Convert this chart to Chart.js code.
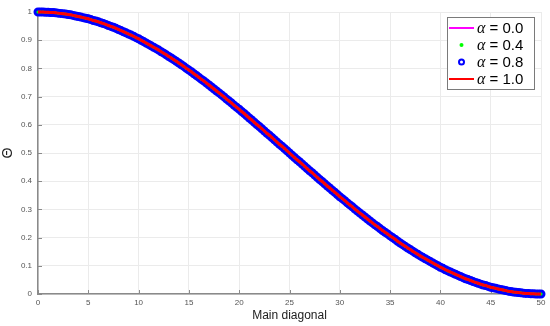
<!DOCTYPE html>
<html>
<head>
<meta charset="utf-8">
<script src="https://cdn.jsdelivr.net/npm/chart.js@4/dist/chart.umd.min.js"></script>
<style>
  html, body { margin: 0; padding: 0; background: #fff; }
  canvas { display: block; }
</style>
</head>
<body>
<canvas id="chart" width="550" height="326"></canvas>
<script>
// posiciones sobre la diagonal principal
const diag = [0, 0.25, 0.5, 0.75, 1, 1.25, 1.5, 1.75, 2, 2.25, 2.5, 2.75, 3, 3.25, 3.5, 3.75, 4, 4.25, 4.5, 4.75,
  5, 5.25, 5.5, 5.75, 6, 6.25, 6.5, 6.75, 7, 7.25, 7.5, 7.75, 8, 8.25, 8.5, 8.75, 9, 9.25, 9.5, 9.75,
  10, 10.25, 10.5, 10.75, 11, 11.25, 11.5, 11.75, 12, 12.25, 12.5, 12.75, 13, 13.25, 13.5, 13.75, 14, 14.25, 14.5, 14.75,
  15, 15.25, 15.5, 15.75, 16, 16.25, 16.5, 16.75, 17, 17.25, 17.5, 17.75, 18, 18.25, 18.5, 18.75, 19, 19.25, 19.5, 19.75,
  20, 20.25, 20.5, 20.75, 21, 21.25, 21.5, 21.75, 22, 22.25, 22.5, 22.75, 23, 23.25, 23.5, 23.75, 24, 24.25, 24.5, 24.75,
  25, 25.25, 25.5, 25.75, 26, 26.25, 26.5, 26.75, 27, 27.25, 27.5, 27.75, 28, 28.25, 28.5, 28.75, 29, 29.25, 29.5, 29.75,
  30, 30.25, 30.5, 30.75, 31, 31.25, 31.5, 31.75, 32, 32.25, 32.5, 32.75, 33, 33.25, 33.5, 33.75, 34, 34.25, 34.5, 34.75,
  35, 35.25, 35.5, 35.75, 36, 36.25, 36.5, 36.75, 37, 37.25, 37.5, 37.75, 38, 38.25, 38.5, 38.75, 39, 39.25, 39.5, 39.75,
  40, 40.25, 40.5, 40.75, 41, 41.25, 41.5, 41.75, 42, 42.25, 42.5, 42.75, 43, 43.25, 43.5, 43.75, 44, 44.25, 44.5, 44.75,
  45, 45.25, 45.5, 45.75, 46, 46.25, 46.5, 46.75, 47, 47.25, 47.5, 47.75, 48, 48.25, 48.5, 48.75, 49, 49.25, 49.5, 49.75, 50];

// valores de Theta (las cuatro curvas se superponen)
const theta = [1.000, 1.000, 1.000, 0.999, 0.999, 0.998, 0.998, 0.997, 0.996, 0.995,
  0.994, 0.993, 0.991, 0.990, 0.988, 0.986, 0.984, 0.982, 0.980, 0.978,
  0.976, 0.973, 0.970, 0.968, 0.965, 0.962, 0.959, 0.956, 0.952, 0.949,
  0.946, 0.942, 0.938, 0.934, 0.930, 0.926, 0.922, 0.918, 0.914, 0.909,
  0.905, 0.900, 0.895, 0.890, 0.885, 0.880, 0.875, 0.870, 0.865, 0.859,
  0.854, 0.848, 0.842, 0.837, 0.831, 0.825, 0.819, 0.813, 0.807, 0.800,
  0.794, 0.788, 0.781, 0.775, 0.768, 0.761, 0.755, 0.748, 0.741, 0.734,
  0.727, 0.720, 0.713, 0.706, 0.699, 0.691, 0.684, 0.677, 0.669, 0.662,
  0.655, 0.647, 0.640, 0.632, 0.624, 0.617, 0.609, 0.601, 0.594, 0.586,
  0.578, 0.570, 0.563, 0.555, 0.547, 0.539, 0.531, 0.524, 0.516, 0.508,
  0.500, 0.492, 0.484, 0.476, 0.469, 0.461, 0.453, 0.445, 0.437, 0.430,
  0.422, 0.414, 0.406, 0.399, 0.391, 0.383, 0.376, 0.368, 0.361, 0.353,
  0.345, 0.338, 0.331, 0.323, 0.316, 0.309, 0.301, 0.294, 0.287, 0.280,
  0.273, 0.266, 0.259, 0.252, 0.245, 0.239, 0.232, 0.225, 0.219, 0.213,
  0.206, 0.200, 0.194, 0.187, 0.181, 0.175, 0.169, 0.163, 0.158, 0.152,
  0.146, 0.141, 0.135, 0.130, 0.125, 0.120, 0.115, 0.110, 0.105, 0.100,
  0.095, 0.091, 0.086, 0.082, 0.078, 0.074, 0.070, 0.066, 0.062, 0.058,
  0.054, 0.051, 0.048, 0.044, 0.041, 0.038, 0.035, 0.032, 0.030, 0.027,
  0.024, 0.022, 0.020, 0.018, 0.016, 0.014, 0.012, 0.010, 0.009, 0.007,
  0.006, 0.005, 0.004, 0.003, 0.002, 0.002, 0.001, 0.001, 0.000, 0.000, 0.000];

const alphas = ['0.0', '0.4', '0.8', '1.0'];
const xTicks = [0, 5, 10, 15, 20, 25, 30, 35, 40, 45, 50];
const yTicks = [0, 0.1, 0.2, 0.3, 0.4, 0.5, 0.6, 0.7, 0.8, 0.9, 1];

const FONT = "'Liberation Sans', Arial, Helvetica, sans-serif";
const AXIS_COLOR = '#8a8a8a';

function puntos() {
  return diag.map((x, i) => ({ x: x, y: theta[i] }));
}

// marcas de eje hacia adentro (estilo MATLAB)
const inwardTicks = {
  id: 'inwardTicks',
  beforeDatasetsDraw(chart) {
    const { ctx, chartArea, scales } = chart;
    ctx.save();
    ctx.strokeStyle = AXIS_COLOR;
    ctx.lineWidth = 1;
    ctx.beginPath();
    xTicks.forEach(v => {
      const px = Math.round(scales.x.getPixelForValue(v)) + 0.5;
      ctx.moveTo(px, chartArea.bottom);
      ctx.lineTo(px, chartArea.bottom - 4);
    });
    yTicks.forEach(v => {
      const py = Math.round(scales.y.getPixelForValue(v)) + 0.5;
      ctx.moveTo(chartArea.left, py);
      ctx.lineTo(chartArea.left + 4, py);
    });
    ctx.stroke();
    ctx.restore();
  }
};

// leyenda dentro del area, arriba a la derecha
const legendBox = {
  id: 'legendBox',
  afterDraw(chart) {
    const { ctx } = chart;
    const bx = 447, by = 17, bw = 87, bh = 72;
    ctx.save();
    ctx.fillStyle = '#fff';
    ctx.fillRect(bx, by, bw, bh);
    ctx.strokeStyle = '#7a7a7a';
    ctx.lineWidth = 1;
    ctx.strokeRect(bx + 0.5, by + 0.5, bw, bh);

    const rows = [28, 45, 62, 79];
    // alfa 0.0
    ctx.strokeStyle = '#ff00ff'; ctx.lineWidth = 2;
    ctx.beginPath(); ctx.moveTo(449, rows[0]); ctx.lineTo(474, rows[0]); ctx.stroke();
    // alfa 0.4
    ctx.fillStyle = '#00ff00';
    ctx.beginPath(); ctx.arc(461.5, rows[1], 2, 0, Math.PI * 2); ctx.fill();
    // alfa 0.8
    ctx.strokeStyle = '#0000ff'; ctx.lineWidth = 2;
    ctx.beginPath(); ctx.arc(461.5, rows[2], 2.5, 0, Math.PI * 2); ctx.stroke();
    // alfa 1.0
    ctx.strokeStyle = '#ff0000'; ctx.lineWidth = 2;
    ctx.beginPath(); ctx.moveTo(449, rows[3]); ctx.lineTo(474, rows[3]); ctx.stroke();

    ctx.fillStyle = '#000';
    ctx.textBaseline = 'middle';
    alphas.forEach((a, i) => {
      ctx.font = "italic 16px 'Liberation Serif', 'Times New Roman', serif";
      ctx.fillText('α', 477, rows[i] + 1);
      const w = ctx.measureText('α').width;
      ctx.font = '15px ' + FONT;
      ctx.fillText(' = ' + a, 477 + w, rows[i] + 1);
    });
    ctx.restore();
  }
};

const ctx = document.getElementById('chart').getContext('2d');
new Chart(ctx, {
  type: 'line',
  data: {
    datasets: [
      { label: 'α = 1.0', data: puntos(), borderColor: '#ff0000', borderWidth: 3,
        pointRadius: 0, tension: 0, fill: false, order: 0, clip: false },
      { label: 'α = 0.0', data: puntos(), borderColor: '#ff00ff', borderWidth: 2,
        pointRadius: 0, tension: 0, fill: false, order: 1, clip: false },
      { label: 'α = 0.4', data: puntos(), showLine: false, pointRadius: 1.5,
        pointBackgroundColor: '#00ff00', pointBorderWidth: 0, order: 2, clip: false },
      { label: 'α = 0.8', data: puntos(), showLine: false, pointRadius: 3,
        pointBorderColor: '#0000ff', pointBackgroundColor: 'rgba(0,0,0,0)',
        pointBorderWidth: 3, order: 3, clip: false }
    ]
  },
  options: {
    responsive: false,
    animation: false,
    layout: { padding: { left: 0, top: 12, right: 9, bottom: 0 } },
    plugins: { legend: { display: false }, tooltip: { enabled: false } },
    scales: {
      x: {
        type: 'linear', min: 0, max: 50,
        afterBuildTicks: s => { s.ticks = xTicks.map(v => ({ value: v })); },
        afterFit: s => { s.height = 32; },
        grid: { color: '#ebebeb', drawTicks: false },
        border: { color: AXIS_COLOR, width: 1.5 },
        ticks: { font: { size: 8, family: FONT }, color: '#555', padding: 4, maxRotation: 0, autoSkip: false,
          callback: v => String(v) },
        title: { display: true, text: 'Main diagonal', color: '#222',
          font: { size: 12, family: FONT }, padding: { top: 0, bottom: 3 } }
      },
      y: {
        type: 'linear', min: 0, max: 1,
        afterBuildTicks: s => { s.ticks = yTicks.map(v => ({ value: v })); },
        afterFit: s => { s.width = 38; },
        grid: { color: '#ebebeb', drawTicks: false },
        border: { color: AXIS_COLOR, width: 1.5 },
        ticks: { font: { size: 8, family: FONT }, color: '#555', padding: 6, autoSkip: false,
          callback: v => String(v) },
        title: { display: true, text: 'Θ', color: '#222',
          font: { size: 14, family: FONT }, padding: { top: 0, bottom: 0 } }
      }
    }
  },
  plugins: [inwardTicks, legendBox]
});
</script>
</body>
</html>
